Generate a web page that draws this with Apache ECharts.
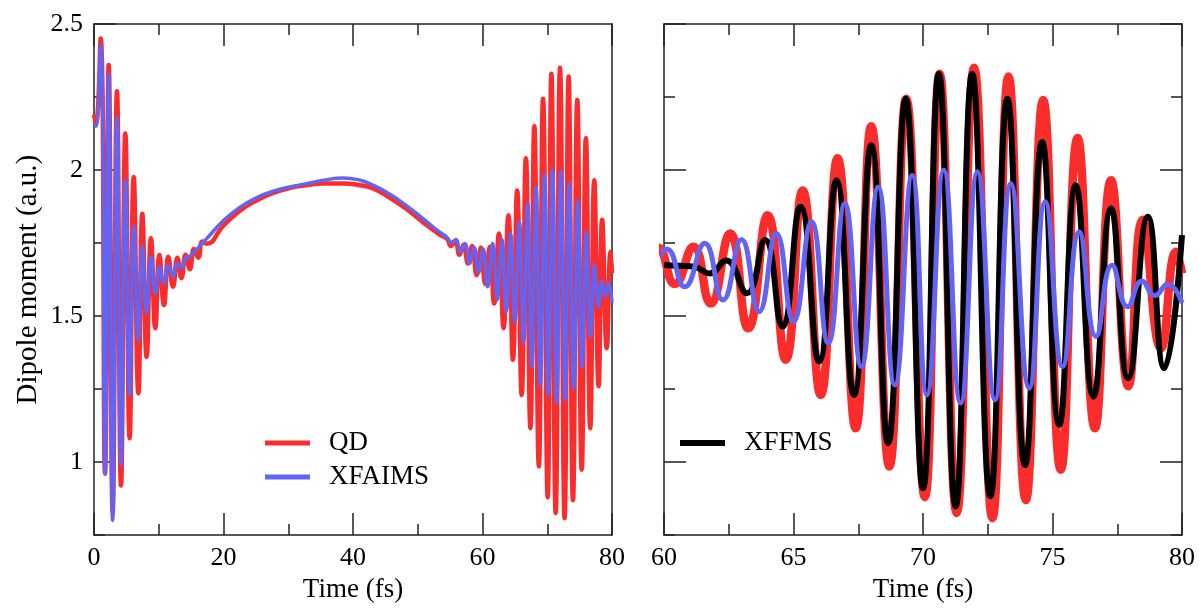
<!DOCTYPE html>
<html>
<head>
<meta charset="utf-8">
<script src="https://cdn.jsdelivr.net/npm/echarts@6/dist/echarts.min.js"></script>
<style>
html,body{margin:0;padding:0;background:#fff;}
#chart{width:1199px;height:608px;}
</style>
</head>
<body>
<div id="chart"></div>
<script>
// ---- data (time in fs, dipole moment in a.u.) ----
const qdTime = [0, 0.3, 1.03, 1.70, 2.27, 2.88, 3.55, 4.17, 4.84, 5.5,
  6.13, 6.85, 7.46, 8.13, 8.8, 9.47, 10.1, 10.81, 11.48, 12.2,
  12.87, 13.5, 14.15, 14.8, 15.45, 16.1, 16.75, 17.4, 20.0, 22.5,
  25.1, 27.7, 30.3, 32.8, 35.4, 38.5, 41.1, 43.1, 45.7, 48.3,
  50.9, 53.4, 54.5, 55.15, 55.8, 56.45, 57.1, 57.75, 58.4, 59.1,
  59.75, 60.42, 61.13, 61.8, 62.55, 63.25, 64.0, 64.7, 65.35, 66.05,
  66.7, 67.4, 68.0, 68.7, 69.35, 70.07, 70.64, 71.3, 71.97, 72.68,
  73.3, 73.97, 74.64, 75.32, 75.97, 76.64, 77.26, 77.93, 78.48, 79.19,
  79.77, 80];
const qdValue = [2.19, 2.16, 2.45, 0.96, 2.36, 0.83, 2.27, 0.92, 2.125, 1.082,
  1.976, 1.236, 1.85, 1.36, 1.766, 1.458, 1.709, 1.538, 1.703, 1.60,
  1.70, 1.63, 1.71, 1.66, 1.73, 1.70, 1.755, 1.748, 1.81, 1.86,
  1.896, 1.922, 1.939, 1.948, 1.954, 1.954, 1.948, 1.937, 1.905, 1.866,
  1.82, 1.779, 1.765, 1.74, 1.755, 1.71, 1.745, 1.68, 1.74, 1.64,
  1.735, 1.61, 1.737, 1.543, 1.783, 1.458, 1.845, 1.35, 1.93, 1.23,
  2.04, 1.116, 2.15, 0.985, 2.244, 0.88, 2.33, 0.826, 2.35, 0.808,
  2.32, 0.87, 2.24, 0.974, 2.11, 1.116, 1.965, 1.26, 1.83, 1.39,
  1.72, 1.646];

const xfaimsTime = [0, 0.3, 1.03, 1.70, 2.27, 2.88, 3.55, 4.17, 4.84, 5.5,
  6.13, 6.85, 7.46, 8.13, 8.8, 9.47, 10.1, 10.81, 11.48, 12.2,
  12.87, 13.5, 14.15, 14.8, 17.4, 20.0, 22.5, 25.1, 27.7, 30.3,
  32.8, 35.4, 38.5, 41.1, 43.1, 45.7, 48.3, 50.9, 53.4, 54.5,
  55.2, 55.9, 56.6, 57.3, 58.0, 58.7, 59.4, 60.1, 60.8, 61.57,
  62.28, 62.99, 63.67, 64.34, 65.0, 65.69, 66.34, 66.98, 67.62, 68.27,
  68.91, 69.58, 70.15, 70.8, 71.45, 72.1, 72.78, 73.39, 74.1, 74.72,
  75.39, 76.03, 76.68, 77.3, 77.9, 78.45, 78.95, 79.45, 80];
const xfaimsValue = [2.16, 2.15, 2.427, 0.96, 2.33, 0.80, 2.18, 0.99, 1.965, 1.23,
  1.805, 1.418, 1.737, 1.51, 1.703, 1.578, 1.669, 1.612, 1.675, 1.635,
  1.68, 1.665, 1.70, 1.705, 1.765, 1.827, 1.872, 1.905, 1.928, 1.942,
  1.953, 1.965, 1.973, 1.965, 1.948, 1.917, 1.877, 1.832, 1.787, 1.77,
  1.752, 1.762, 1.72, 1.748, 1.68, 1.735, 1.65, 1.73, 1.60, 1.749,
  1.555, 1.762, 1.515, 1.783, 1.481, 1.823, 1.407, 1.885, 1.327, 1.942,
  1.264, 1.982, 1.23, 2.0, 1.202, 1.994, 1.213, 1.954, 1.253, 1.891,
  1.327, 1.788, 1.43, 1.674, 1.532, 1.62, 1.57, 1.61, 1.545];

const xffmsTime = [60, 60.6, 61.2, 61.75, 62.4, 63.2, 63.9, 64.57, 65.27, 65.99,
  66.66, 67.33, 68.0, 68.65, 69.33, 70.0, 70.61, 71.26, 71.9, 72.6,
  73.26, 73.94, 74.6, 75.26, 75.9, 76.58, 77.26, 77.92, 78.68, 79.32,
  80];
const xffmsValue = [1.675, 1.672, 1.668, 1.646, 1.69, 1.578, 1.76, 1.464, 1.874, 1.344,
  1.965, 1.23, 2.085, 1.065, 2.244, 0.91, 2.33, 0.848, 2.33, 0.883,
  2.244, 0.99, 2.096, 1.128, 1.948, 1.224, 1.868, 1.287, 1.84, 1.321,
  1.777];

const leftTicks = [0, 20, 40, 60, 80];
const rightTicks = [60, 65, 70, 75, 80];
const yMajorTicks = [1, 1.5, 2, 2.5];

// ---- chart ----
function pairs(t, v) { return t.map(function (x, i) { return [x, v[i]]; }); }
const FONT = "'Liberation Serif', 'DejaVu Serif', serif";
const RED = '#fb2c2c', BLUE = '#6464f2', BLACK = '#000000', AX = '#222222';

const lineSt = { color: AX, width: 1.5 };
function xAx(grid, pos, ticks, labels, name) {
  const step = ticks[1] - ticks[0];
  return {
    type: 'value', gridIndex: grid, position: pos,
    min: ticks[0], max: ticks[ticks.length - 1], interval: step,
    axisLine: { show: true, onZero: false, lineStyle: lineSt },
    axisTick: { show: true, inside: true, length: 22, lineStyle: lineSt },
    minorTick: { show: true, splitNumber: 2, length: 11, lineStyle: lineSt },
    splitLine: { show: false }, minorSplitLine: { show: false },
    axisLabel: { show: labels, margin: 10, fontFamily: FONT, fontSize: 26, color: '#000' },
    name: name || '', nameLocation: 'middle', nameGap: 35,
    nameTextStyle: { fontFamily: FONT, fontSize: 27, color: '#000' }
  };
}
function yAx(grid, pos, opts) {
  const o = {
    type: 'value', gridIndex: grid, position: pos,
    min: 0.75, max: 2.5, interval: 0.25,
    axisLine: { show: opts.line, onZero: false, lineStyle: lineSt },
    axisTick: { show: opts.ticks !== false, inside: true, length: opts.major ? 22 : 11, lineStyle: lineSt },
    splitLine: { show: false },
    axisLabel: { show: !!opts.labels, margin: 11, fontFamily: FONT, fontSize: 26, color: '#000',
      formatter: function (v) { return yMajorTicks.some(function (m) { return Math.abs(m - v) < 1e-6; }) ? String(v) : ''; } }
  };
  if (opts.major) o.axisTick.customValues = yMajorTicks;
  if (opts.name) {
    o.name = opts.name; o.nameLocation = 'middle'; o.nameGap = 51; o.nameRotate = 90;
    o.nameTextStyle = { fontFamily: FONT, fontSize: 29, color: '#000' };
  }
  return o;
}

const chart = echarts.init(document.getElementById('chart'), null, { renderer: 'canvas' });
const legendText = { fontFamily: FONT, fontSize: 27, color: '#000', lineHeight: 30, padding: [0, 0, 0, 14] };
chart.setOption({
  animation: false,
  backgroundColor: '#ffffff',
  grid: [
    { left: 94, top: 24, width: 518, height: 518 },
    { left: 664, top: 24, width: 518, height: 518 }
  ],
  legend: [
    { data: ['QD', 'XFAIMS'], orient: 'vertical', left: 260, top: 423, icon: 'rect',
      itemWidth: 45, itemHeight: 5, itemGap: 4, textStyle: legendText, selectedMode: false },
    { data: ['XFFMS'], orient: 'vertical', left: 675, top: 423, icon: 'rect',
      itemWidth: 45, itemHeight: 6, itemGap: 4, textStyle: legendText, selectedMode: false }
  ],
  xAxis: [
    xAx(0, 'bottom', leftTicks, true, 'Time (fs)'),
    xAx(0, 'top', leftTicks, false),
    xAx(1, 'bottom', rightTicks, true, 'Time (fs)'),
    xAx(1, 'top', rightTicks, false)
  ],
  yAxis: [
    yAx(0, 'left', { line: true, labels: true, name: 'Dipole moment (a.u.)' }),
    yAx(0, 'left', { line: false, major: true }),
    yAx(0, 'right', { line: true, ticks: false }),
    yAx(1, 'left', { line: true }),
    yAx(1, 'left', { line: false, major: true }),
    yAx(1, 'right', { line: true }),
    yAx(1, 'right', { line: false, major: true })
  ],
  series: [
    { name: 'QD', type: 'line', xAxisIndex: 0, yAxisIndex: 0, data: pairs(qdTime, qdValue),
      symbol: 'none', smooth: 0.5, lineStyle: { color: RED, width: 4.5 }, itemStyle: { color: RED }, z: 2 },
    { name: 'XFAIMS', type: 'line', xAxisIndex: 0, yAxisIndex: 0, data: pairs(xfaimsTime, xfaimsValue),
      symbol: 'none', smooth: 0.5, lineStyle: { color: BLUE, width: 3.5 }, itemStyle: { color: BLUE }, z: 3 },
    { name: 'QD', type: 'line', xAxisIndex: 2, yAxisIndex: 3, data: pairs(qdTime, qdValue),
      symbol: 'none', smooth: 0.5, lineStyle: { color: RED, width: 8.5 }, itemStyle: { color: RED }, z: 2 },
    { name: 'XFFMS', type: 'line', xAxisIndex: 2, yAxisIndex: 3, data: pairs(xffmsTime, xffmsValue),
      symbol: 'none', smooth: 0.5, lineStyle: { color: BLACK, width: 6 }, itemStyle: { color: BLACK }, z: 3 },
    { name: 'XFAIMS', type: 'line', xAxisIndex: 2, yAxisIndex: 3, data: pairs(xfaimsTime, xfaimsValue),
      symbol: 'none', smooth: 0.5, lineStyle: { color: BLUE, width: 5 }, itemStyle: { color: BLUE }, z: 4 }
  ]
});
</script>
</body>
</html>
